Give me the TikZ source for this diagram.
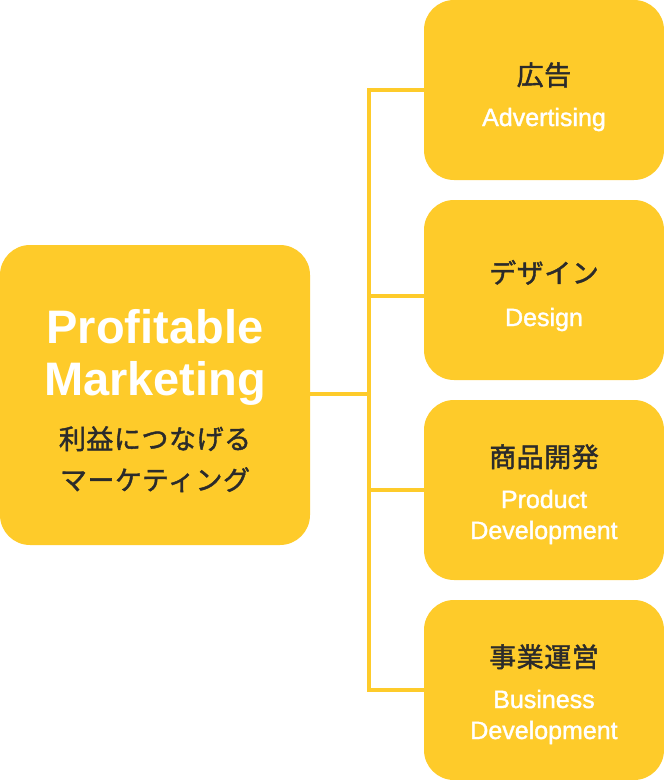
\documentclass[tikz,border=0pt]{standalone}
\usepackage{fontspec}
\setmainfont{Liberation Sans}
\newfontfamily\enfont{Liberation Sans}[FakeBold=1.4]
\newfontfamily\jpfont{Noto Sans CJK JP}[FakeBold=1.6, LetterSpace=2]
\definecolor{gold}{HTML}{FECB2A}
\definecolor{ink}{HTML}{2B2B2B}
\begin{document}
\begin{tikzpicture}[x=1pt, y=-1pt, line join=miter,
		box/.style={fill=gold, rounded corners=30pt, inner sep=0pt, minimum width=240pt, minimum height=180pt},
		link/.style={draw=gold, line width=3.5pt},
		head/.style={text=white, font=\bfseries\fontsize{47}{47}\selectfont, anchor=base},
		jp/.style={text=ink, font=\jpfont\fontsize{27}{27}\selectfont, anchor=base},
		en/.style={text=white, font=\enfont\fontsize{25}{25}\selectfont, anchor=base}]
	\useasboundingbox (0,0) rectangle (664,780);
	% boxes
	\node[box, minimum width=310pt, minimum height=300pt] (main) at (155,395) {};
	\node[box] (ad) at (544,90) {};
	\node[box] (des) at (544,290) {};
	\node[box] (prod) at (544,490) {};
	\node[box] (biz) at (544,690) {};
	% connectors
	\coordinate (hub) at (369,394);
	\draw[link] (main.east |- hub) -- (hub);
	\draw[link] (ad.west) -| (hub) |- (biz.west);
	\draw[link] (hub |- 0,296) -- (des.west |- 0,296);
	\draw[link] (hub |- prod.west) -- (prod.west);
	% texts
	\node[head] (t1) at (155,343) {Profitable};
	\node[head] (t2) at (155,395) {Marketing};
	\node[jp] (t3) at (155,449) {利益につなげる};
	\node[jp] (t4) at (155,490) {マーケティング};
	\node[jp] (adj) at (544,85) {広告};
	\node[en] (ade) at (544,126) {Advertising};
	\node[jp] (desj) at (544,283) {デザイン};
	\node[en] (dese) at (544,326) {Design};
	\node[jp] (prodj) at (544,467) {商品開発};
	\node[en] (prode1) at (544,508) {Product};
	\node[en] (prode2) at (544,539) {Development};
	\node[jp] (bizj) at (544,667) {事業運営};
	\node[en] (bize1) at (544,708) {Business};
	\node[en] (bize2) at (544,739) {Development};
\end{tikzpicture}
\end{document}
